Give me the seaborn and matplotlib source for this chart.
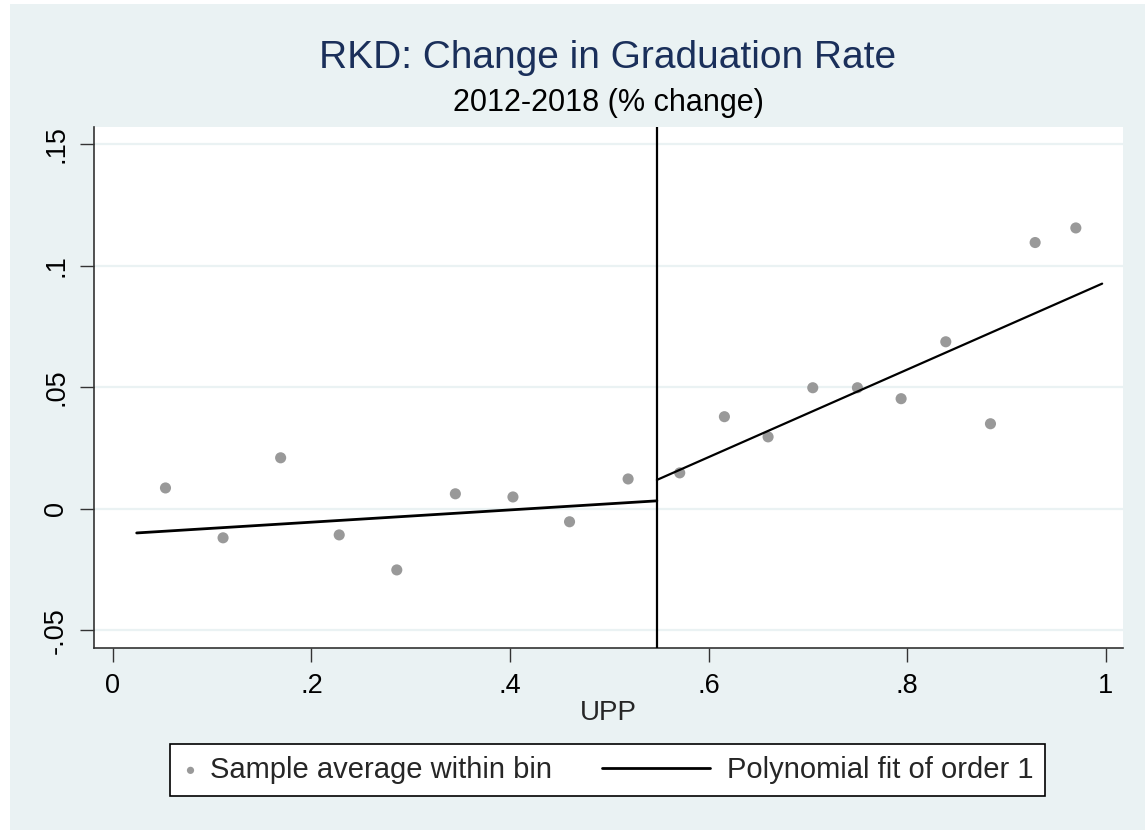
import numpy as np
import pandas as pd
import matplotlib
matplotlib.use('Agg')
import matplotlib.pyplot as plt
import seaborn as sns
from matplotlib.patches import Rectangle
from matplotlib.legend_handler import HandlerLine2D

# binned sample averages
bin_x = [0.053, 0.111, 0.169, 0.228, 0.286, 0.345, 0.403, 0.460, 0.519,
         0.571, 0.616, 0.660, 0.705, 0.750, 0.794, 0.839, 0.884, 0.929, 0.970]
bin_y = [0.0086, -0.0119, 0.0210, -0.0107, -0.0251, 0.0062, 0.0049, -0.0053, 0.0123,
         0.0148, 0.0379, 0.0296, 0.0498, 0.0498, 0.0453, 0.0687, 0.0350, 0.1095, 0.1155]

# polynomial fit (order 1) on each side of the cutoff
fit_left_x = [0.024, 0.548]
fit_left_y = [-0.0099, 0.0033]
fit_right_x = [0.548, 0.9965]
fit_right_y = [0.0119, 0.0926]

cutoff = 0.548

xticks = [0, 0.2, 0.4, 0.6, 0.8, 1.0]
xticklabels = ['0', '.2', '.4', '.6', '.8', '1']
yticks = [-0.05, 0, 0.05, 0.1, 0.15]
yticklabels = ['-.05', '0', '.05', '.1', '.15']

bins = pd.DataFrame({'x': bin_x, 'y': bin_y})
left = pd.DataFrame({'x': fit_left_x, 'y': fit_left_y})
right = pd.DataFrame({'x': fit_right_x, 'y': fit_right_y})


# legend line that reaches back into the column gap (Stata-style long key)
class LongLine(HandlerLine2D):
    def get_xdata(self, legend, xdescent, ydescent, width, height, fontsize):
        x = np.array([-xdescent - 3.3 * fontsize, -xdescent + width - 0.2 * fontsize])
        return x, x


sns.set_style('white')
plt.rcParams['font.family'] = ['Liberation Sans', 'DejaVu Sans']

bg = '#eaf2f3'
fig = plt.figure(figsize=(11.45, 8.3), dpi=100)
fig.patch.set_facecolor('white')
fig.patches.append(Rectangle((10 / 1145, 0), 1, 1 - 4 / 830, transform=fig.transFigure,
                             facecolor=bg, edgecolor='none', zorder=-10))

ax = fig.add_axes([94 / 1145, 1 - 648 / 830, (1123 - 94) / 1145, (648 - 127) / 830])
ax.set_facecolor('white')

for yt in yticks:
    ax.axhline(yt, color=bg, lw=1.6, zorder=0)

sns.scatterplot(data=bins, x='x', y='y', ax=ax, color='#999999', s=64,
                edgecolor='none', label='Sample average within bin', zorder=3)
sns.lineplot(data=left, x='x', y='y', ax=ax, color='black', lw=2,
             label='Polynomial fit of order 1', zorder=4)
sns.lineplot(data=right, x='x', y='y', ax=ax, color='black', lw=1.6, zorder=4)
ax.axvline(cutoff, color='black', lw=1.6, zorder=5)

ax.set_xlim(-0.019, 1.0175)
ax.set_ylim(-0.0572, 0.157)
ax.set_xticks(xticks)
ax.set_xticklabels(xticklabels)
ax.set_yticks(yticks)
ax.set_yticklabels(yticklabels, rotation=90, va='center')
ax.tick_params(axis='both', direction='out', length=10, width=1, color='#333333',
               labelsize=19.5, labelcolor='black', pad=8, left=True, bottom=True)
ax.set_xlabel('UPP', fontsize=20, labelpad=1)
ax.set_ylabel('')

for side in ['top', 'right']:
    ax.spines[side].set_visible(False)
for side in ['left', 'bottom']:
    ax.spines[side].set_color('#333333')
    ax.spines[side].set_linewidth(1.2)

handles, labels = ax.get_legend_handles_labels()
ax.get_legend().remove()
leg = fig.legend(handles, labels, loc='center', bbox_to_anchor=(607.5 / 1145, 1 - 770 / 830),
                 ncol=2, fontsize=21, frameon=True, fancybox=False, framealpha=1,
                 edgecolor='black', handlelength=0.6, handletextpad=0.38,
                 columnspacing=5.0, borderpad=0.4, markerscale=0.65,
                 handler_map={handles[1]: LongLine()})
leg.get_frame().set_linewidth(1.2)

fig.text(608 / 1145, 1 - 58 / 830, 'RKD: Change in Graduation Rate', ha='center',
         va='center', fontsize=28, color='#1a2f5a')
fig.text(608 / 1145, 1 - 103 / 830, '2012-2018 (% change)', ha='center',
         va='center', fontsize=22, color='black')

fig.savefig('out.png', dpi=100)
